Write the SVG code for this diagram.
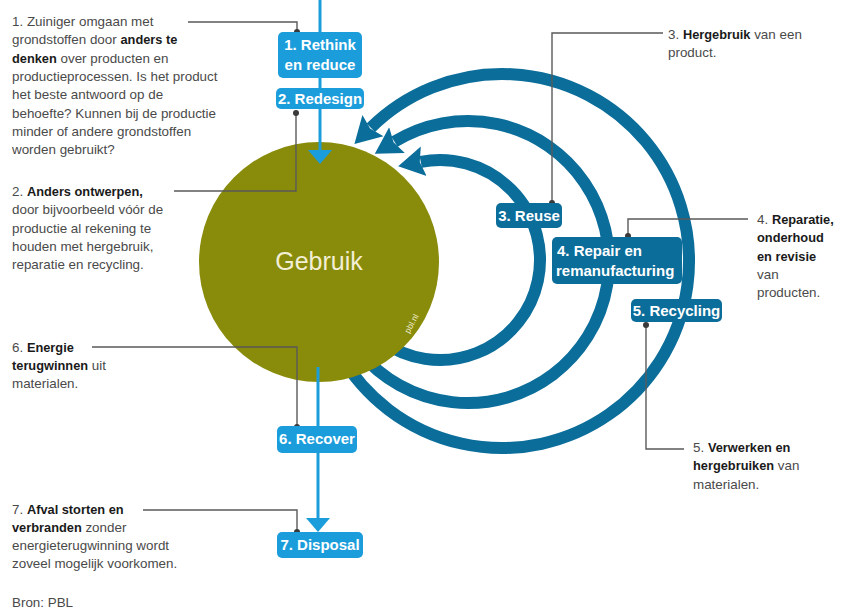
<svg xmlns="http://www.w3.org/2000/svg" width="843" height="610" viewBox="0 0 843 610">
<style>
.body{font-family:"Liberation Sans",Arial,sans-serif;font-size:13.4px;fill:#4a4a4a}
.b{font-weight:bold;fill:#1a1a1a;font-size:12.8px}
.lbl{font-family:"Liberation Sans",Arial,sans-serif;font-size:15px;font-weight:bold;fill:#ffffff}
.lb{fill:#1c9ddb}
.db{fill:#0b6d9a}
.arc{fill:none;stroke:#0b6d9a;stroke-width:12;marker-end:url(#arcHead)}
.flow{fill:none;stroke:#1c9ddb;stroke-width:3;marker-end:url(#flowHead)}
.lead{fill:none;stroke:#5a5a5a;stroke-width:1.4}
.dot{fill:#3a3a3a}
</style>
<defs>
<marker id="arcHead" markerUnits="userSpaceOnUse" markerWidth="28" markerHeight="32" viewBox="0 0 28 32" refX="3" refY="16" orient="auto">
<path d="M0,1 L26,16 L0,31 L4,16 z" fill="#0b6d9a"/>
</marker>
<marker id="flowHead" markerUnits="userSpaceOnUse" markerWidth="16" markerHeight="26" viewBox="0 0 16 26" refX="1" refY="13" orient="auto">
<path d="M0,1 L14,13 L0,25 z" fill="#1c9ddb"/>
</marker>
</defs>
<rect width="843" height="610" fill="#ffffff"/>

<g id="connectors">
<path class="arc" d="M382.64,341.92 A100,100 0 1 0 420.75,161.87"/>
<path class="arc" d="M360,352.63 A141,141 0 1 0 394.43,141.71"/>
<path class="arc" d="M340.06,354.5 A187,187 0 1 0 370.8,127.74"/>
</g>

<g id="gebruik">
<circle cx="319" cy="262" r="120" fill="#898b0b"/>
<text x="319" y="270" text-anchor="middle" style="font-family:'Liberation Sans',Arial,sans-serif;font-size:25px;fill:#f2efd6">Gebruik</text>
<text transform="translate(414,325) rotate(-62)" text-anchor="middle" style="font-family:'Liberation Sans',Arial,sans-serif;font-size:8.5px;fill:#eeeccc">pbl.nl</text>
</g>

<g id="flows">
<path class="flow" d="M320,0 V151"/>
<path class="flow" d="M318,367 V519"/>
</g>

<g id="leaders">
<path class="lead" d="M188,22 H297 V32"/><circle class="dot" cx="297" cy="32" r="3"/>
<path class="lead" d="M174,191 H296 V113"/><circle class="dot" cx="296" cy="113" r="3"/>
<path class="lead" d="M663,33 H552 V203"/><circle class="dot" cx="552" cy="203" r="3"/>
<path class="lead" d="M748,219 H628 V236"/><circle class="dot" cx="628" cy="236" r="3"/>
<path class="lead" d="M646,325 V449 H684"/><circle class="dot" cx="646" cy="325" r="3"/>
<path class="lead" d="M92,347 H297 V427"/><circle class="dot" cx="297" cy="427" r="3"/>
<path class="lead" d="M143,510 H297 V532"/><circle class="dot" cx="297" cy="532" r="3"/>
</g>

<g id="rethink">
<rect class="lb" x="278" y="32" width="84" height="46" rx="5"/>
<text class="lbl" x="320" y="50" text-anchor="middle">1. Rethink</text>
<text class="lbl" x="320" y="70" text-anchor="middle">en reduce</text>
</g>
<g id="redesign">
<rect class="lb" x="276" y="88" width="88" height="21" rx="5"/>
<text class="lbl" x="320" y="104" text-anchor="middle">2. Redesign</text>
</g>
<g id="reuse">
<rect class="db" x="496" y="203" width="66" height="25" rx="5"/>
<text class="lbl" x="529" y="221" text-anchor="middle">3. Reuse</text>
</g>
<g id="repair">
<rect class="db" x="552" y="237" width="130" height="47" rx="5"/>
<text class="lbl" x="557" y="256">4. Repair en</text>
<text class="lbl" x="556" y="276">remanufacturing</text>
</g>
<g id="recycling">
<rect class="db" x="631" y="299" width="91" height="23" rx="5"/>
<text class="lbl" x="676.5" y="316" text-anchor="middle">5. Recycling</text>
</g>
<g id="recover">
<rect class="lb" x="277" y="426" width="80" height="27" rx="5"/>
<text class="lbl" x="317" y="444" text-anchor="middle">6. Recover</text>
</g>
<g id="disposal">
<rect class="lb" x="277" y="532" width="86" height="26" rx="5"/>
<text class="lbl" x="320" y="550" text-anchor="middle">7. Disposal</text>
</g>

<g id="note1" class="body">
<text x="12" y="26">1. Zuiniger omgaan met</text>
<text x="12" y="44.3">grondstoffen door <tspan class="b">anders te</tspan></text>
<text x="12" y="62.6"><tspan class="b">denken</tspan> over producten en</text>
<text x="12" y="80.9">productieprocessen. Is het product</text>
<text x="12" y="99.2">het beste antwoord op de</text>
<text x="12" y="117.5">behoefte? Kunnen bij de productie</text>
<text x="12" y="135.8">minder of andere grondstoffen</text>
<text x="12" y="154.1">worden gebruikt?</text>
</g>
<g id="note2" class="body">
<text x="12" y="196">2. <tspan class="b">Anders ontwerpen,</tspan></text>
<text x="12" y="214.3">door bijvoorbeeld vóór de</text>
<text x="12" y="232.6">productie al rekening te</text>
<text x="12" y="250.9">houden met hergebruik,</text>
<text x="12" y="269.2">reparatie en recycling.</text>
</g>
<g id="note3" class="body">
<text x="668" y="38.5">3. <tspan class="b">Hergebruik</tspan> van een</text>
<text x="668" y="57">product.</text>
</g>
<g id="note4" class="body">
<text x="757" y="224">4. <tspan class="b">Reparatie,</tspan></text>
<text x="757" y="242.3" class="b">onderhoud</text>
<text x="757" y="260.6" class="b">en revisie</text>
<text x="757" y="278.9">van</text>
<text x="757" y="297.2">producten.</text>
</g>
<g id="note5" class="body">
<text x="693" y="452">5. <tspan class="b">Verwerken en</tspan></text>
<text x="693" y="470.3"><tspan class="b">hergebruiken</tspan> van</text>
<text x="693" y="488.6">materialen.</text>
</g>
<g id="note6" class="body">
<text x="12" y="351.5">6. <tspan class="b">Energie</tspan></text>
<text x="12" y="369.8"><tspan class="b">terugwinnen</tspan> uit</text>
<text x="12" y="388.1">materialen.</text>
</g>
<g id="note7" class="body">
<text x="12" y="513.5">7. <tspan class="b">Afval storten en</tspan></text>
<text x="12" y="531.8"><tspan class="b">verbranden</tspan> zonder</text>
<text x="12" y="550.1">energieterugwinning wordt</text>
<text x="12" y="568.4">zoveel mogelijk voorkomen.</text>
</g>
<g id="source" class="body">
<text x="12" y="607">Bron: PBL</text>
</g>
</svg>
